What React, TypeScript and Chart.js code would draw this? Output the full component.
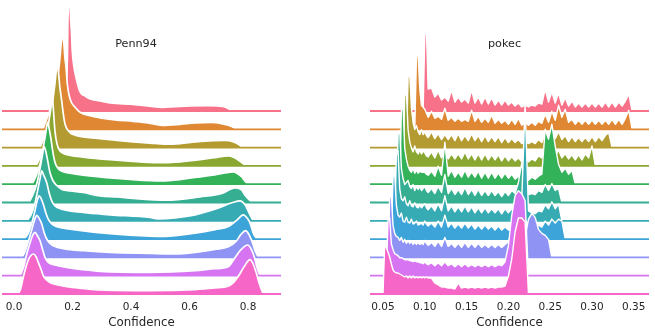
import React, { useEffect, useRef } from "react";
import { Chart, registerables } from "chart.js";

Chart.register(...registerables);
Chart.defaults.font.family = "'DejaVu Sans', sans-serif";

// ---------- data ----------
const ROW_COLORS = [
  "#f77189", "#df8733", "#b39b31", "#89a731", "#33b259", "#35ae91",
  "#37abb4", "#3ca4d8", "#8f93f4", "#d674f2", "#f566c6",
];
const PANEL_TITLES = ["Penn94", "pokec"];
const X_LABEL = "Confidence";
const PENN_TICKS = [0.0, 0.2, 0.4, 0.6, 0.8];
const POKEC_TICKS = [0.05, 0.1, 0.15, 0.2, 0.25, 0.3, 0.35];

// Penn94 ridges (top row first): [confidence, scaled density]
const PENN_0 = [[0.150,0],[0.168,8],[0.176,20],[0.180,28],[0.183,60],[0.184,85],[0.186,104],[0.189,109],[0.192,102],[0.194,90],[0.197,76],[0.199,61],[0.205,44],[0.214,31],[0.226,19],[0.243,15],[0.260,12],[0.294,10],[0.328,8],[0.407,6.5],[0.465,4.8],[0.506,3.7],[0.550,4.3],[0.602,5],[0.660,5.3],[0.697,5],[0.721,4],[0.735,2],[0.747,0]];
const PENN_1 = [[0.099,0],[0.109,8],[0.121,17.6],[0.129,26],[0.140,42.6],[0.152,57.6],[0.157,71],[0.163,90],[0.167,94],[0.170,88],[0.174,72],[0.178,62],[0.182,46],[0.192,30],[0.209,22],[0.226,17],[0.260,13.5],[0.294,11.5],[0.345,9.5],[0.407,8],[0.458,6.5],[0.506,4],[0.568,5],[0.619,6.3],[0.677,6.8],[0.721,5],[0.742,3],[0.762,0]];
const PENN_2 = [[0.089,0],[0.099,7],[0.112,14],[0.121,24],[0.129,37],[0.134,50],[0.140,64],[0.145,78],[0.148,82],[0.151,78],[0.157,60],[0.163,47],[0.168,35],[0.174,24],[0.192,15],[0.209,12.5],[0.243,10.5],[0.294,9],[0.345,7.5],[0.407,5.8],[0.465,4.5],[0.516,3.5],[0.568,4],[0.619,5.6],[0.680,7],[0.721,7.2],[0.749,6],[0.766,3.5],[0.781,0]];
const PENN_3 = [[0.075,0],[0.089,8],[0.103,18],[0.113,32],[0.121,48],[0.127,60],[0.130,68],[0.133,62],[0.140,35],[0.147,22],[0.157,15],[0.169,12.5],[0.192,10.5],[0.236,8.8],[0.328,6.2],[0.441,3.8],[0.516,3.2],[0.568,4],[0.636,6.2],[0.687,8.3],[0.732,10],[0.752,8.5],[0.773,4.5],[0.793,0]];
const PENN_4 = [[0.062,0],[0.075,8],[0.089,20],[0.099,35],[0.108,50],[0.115,62],[0.120,56],[0.127,44],[0.133,32],[0.140,22],[0.150,16],[0.164,13],[0.192,11],[0.236,9],[0.352,5.7],[0.465,3.5],[0.516,3.3],[0.619,6.7],[0.677,9],[0.721,11.3],[0.749,12.3],[0.762,11],[0.779,7.3],[0.790,3],[0.801,0]];
const PENN_5 = [[0.051,0],[0.065,8],[0.079,20],[0.089,34],[0.097,47],[0.103,56],[0.108,52],[0.115,42],[0.123,30],[0.133,22],[0.146,17],[0.164,13],[0.192,11.5],[0.236,10],[0.294,6.5],[0.352,5.5],[0.407,4],[0.523,2.3],[0.636,5.6],[0.711,9],[0.756,14.6],[0.779,12.3],[0.790,7.3],[0.813,0]];
const PENN_6 = [[0.044,0],[0.058,6],[0.072,18],[0.082,32],[0.089,42],[0.095,50],[0.101,46],[0.112,38],[0.120,28],[0.129,20],[0.140,15],[0.163,11.7],[0.236,8.3],[0.328,6],[0.465,3.3],[0.492,2],[0.550,3],[0.619,6],[0.697,12.7],[0.745,18],[0.773,20],[0.790,16],[0.807,6],[0.818,0]];
const PENN_7 = [[0.034,0],[0.049,6],[0.062,17],[0.072,29],[0.080,39],[0.086,43.3],[0.092,41],[0.100,35],[0.109,26],[0.117,20],[0.130,15],[0.146,12.3],[0.192,10],[0.237,8.3],[0.328,5.5],[0.465,3],[0.516,2.7],[0.619,6],[0.687,9.5],[0.733,12.6],[0.762,19],[0.784,24.3],[0.797,21],[0.807,16],[0.818,6],[0.830,0]];
const PENN_8 = [[0.027,0],[0.038,6],[0.051,18],[0.062,29],[0.071,38],[0.078,42],[0.086,39],[0.095,33.4],[0.103,25],[0.112,18.4],[0.123,14],[0.134,11.7],[0.174,8.5],[0.237,6.7],[0.328,5],[0.465,4],[0.550,3.5],[0.619,5],[0.687,8],[0.733,10.7],[0.759,16],[0.776,23],[0.792,26.7],[0.803,23],[0.813,16.7],[0.824,7],[0.835,0]];
const PENN_9 = [[0.021,0],[0.027,4],[0.034,10],[0.044,22],[0.055,33],[0.065,41],[0.072,43.3],[0.080,40],[0.089,35],[0.097,27],[0.106,18.3],[0.115,14],[0.123,12.3],[0.150,10],[0.180,8.3],[0.236,6],[0.294,4.3],[0.465,3.3],[0.619,5],[0.687,7],[0.732,9],[0.756,18.3],[0.776,26],[0.799,30.7],[0.810,27],[0.822,18.3],[0.831,8],[0.841,0]];
const PENN_10 = [[0.010,0],[0.021,3.5],[0.032,17],[0.041,27],[0.049,34],[0.058,38.5],[0.066,40],[0.075,37.5],[0.083,31.6],[0.092,25],[0.100,18.3],[0.111,14],[0.123,11.6],[0.150,9],[0.180,7.3],[0.236,5.5],[0.294,4],[0.465,3.3],[0.619,4.4],[0.687,6],[0.732,7.7],[0.749,11],[0.767,17.7],[0.786,27],[0.807,34.4],[0.819,29],[0.830,19.4],[0.838,11],[0.844,6],[0.852,0]];

// pokec ridges: confidence grid and scaled density per row (top row first)
const POKEC_X = [
  0.050,0.052,0.054,0.056,0.058,0.060,0.062,0.064,0.066,0.068,
  0.070,0.072,0.074,0.076,0.078,0.080,0.082,0.084,0.086,0.088,
  0.090,0.092,0.094,0.096,0.098,0.100,0.102,0.104,0.108,0.112,
  0.116,0.120,0.124,0.128,0.132,0.136,0.140,0.144,0.148,0.152,
  0.156,0.160,0.164,0.168,0.172,0.176,0.180,0.184,0.188,0.192,
  0.196,0.200,0.204,0.208,0.212,0.216,0.220,0.224,0.228,0.232,
  0.236,0.240,0.244,0.248,0.252,0.256,0.260,0.264,0.268,0.272,
  0.276,0.280,0.284,0.288,0.292,0.296,0.300,0.304,0.308,0.312,
  0.316,0.320,0.324,0.328,0.332,0.336,0.340,0.344,0.348,0.352,
];
const POKEC_0 = [
  0,0,0,0,0,0,0,0,0,0,
  0,0,0,0,0,0,0,0,0,0,
  0,0,0,0,0,76,79,22,23,14,
  18,11,14,10,21,9,14,9,12,8,
  21,8,14,7,14,7,13,6,11,6,
  11,6,9,5,8,4,6,4,6,5,
  8,7,22,9,19,8,18,6,13,5,
  10,4,8,4,8,4,8,4,8,4,
  9,4,9,4,9,5,10,17,0,0,
];
const POKEC_1 = [
  0,0,0,0,0,0,0,0,0,0,
  0,0,0,0,0,0,0,0,0,0,
  72,75,40,24,22,20,16,12,18,11,
  13,10,21,9,12,8,11,8,10,8,
  19,8,13,7,11,7,14,6,10,6,
  9,5,10,5,11,4,7,4,7,4,
  8,6,15,7,18,9,24,12,20,7,
  10,5,9,5,9,5,9,5,9,5,
  9,5,10,5,10,5,11,19,0,0,
];
const POKEC_2 = [
  0,0,0,0,0,0,0,0,0,0,
  0,0,0,0,0,70,74,40,25,18,
  22,16,13,18,13,16,12,10,16,9,
  14,8,13,8,13,7,14,7,12,7,
  14,7,12,6,12,6,11,6,11,5,
  10,5,9,5,8,4,6,4,6,4,
  8,5,14,8,20,9,16,8,12,6,
  11,6,10,6,10,6,11,6,11,7,
  12,15,0,0,0,0,0,0,0,0,
];
const POKEC_3 = [
  0,0,0,0,0,0,0,0,0,0,
  0,0,0,70,74,36,24,18,14,20,
  14,12,16,12,15,13,10,9,14,8,
  16,8,14,7,12,7,12,7,14,7,
  12,6,12,6,12,6,11,6,11,5,
  10,5,9,5,8,4,6,4,7,5,
  10,8,18,10,22,10,16,8,12,7,
  11,6,11,6,12,8,20,0,0,0,
  0,0,0,0,0,0,0,0,0,0,
];
const POKEC_4 = [
  0,0,0,0,0,0,0,0,0,0,
  0,74,78,36,25,18,14,12,16,11,
  14,11,13,12,12,12,10,9,13,8,
  18,9,42,8,14,7,12,7,14,7,
  12,7,13,6,12,6,12,6,11,6,
  11,6,10,5,8,4,6,4,7,5,
  8,10,55,45,60,38,20,12,16,10,
  14,0,0,0,0,0,0,0,0,0,
  0,0,0,0,0,0,0,0,0,0,
];
const POKEC_5 = [
  0,0,0,0,0,0,0,0,0,68,
  72,34,24,18,20,22,16,14,18,12,
  16,13,16,12,14,16,12,10,14,9,
  16,10,28,9,14,8,13,8,15,8,
  13,7,13,7,12,7,12,7,11,6,
  11,7,12,9,20,40,15,8,9,8,
  12,10,18,12,19,12,14,0,0,0,
  0,0,0,0,0,0,0,0,0,0,
  0,0,0,0,0,0,0,0,0,0,
];
const POKEC_6 = [
  0,0,0,0,0,0,0,0,66,70,
  32,22,20,24,17,15,20,15,14,18,
  14,13,16,13,15,17,13,11,15,10,
  17,10,25,10,15,9,14,9,15,9,
  14,8,13,8,13,8,12,8,12,7,
  12,8,12,9,14,22,117,10,8,7,
  10,9,16,12,19,12,17,0,0,0,
  0,0,0,0,0,0,0,0,0,0,
  0,0,0,0,0,0,0,0,0,0,
];
const POKEC_7 = [
  0,0,0,0,0,0,62,65,34,24,
  22,26,18,17,22,17,16,20,15,16,
  18,14,15,16,14,18,15,13,16,12,
  18,12,24,12,16,11,15,11,16,11,
  15,10,14,10,14,10,13,9,13,9,
  12,9,9,10,22,36,20,10,12,10,
  14,12,18,14,20,16,20,18,0,0,
  0,0,0,0,0,0,0,0,0,0,
  0,0,0,0,0,0,0,0,0,0,
];
const POKEC_8 = [
  0,0,0,0,60,62,32,24,21,20,
  17,20,15,18,14,17,14,16,13,15,
  13,15,13,14,13,17,14,12,15,11,
  16,11,20,11,14,10,14,10,15,10,
  14,10,14,10,13,10,13,10,13,10,
  13,16,25,40,50,30,20,38,44,40,
  28,24,22,18,0,0,0,0,0,0,
  0,0,0,0,0,0,0,0,0,0,
  0,0,0,0,0,0,0,0,0,0,
];
const POKEC_9 = [
  0,0,0,56,58,32,26,22,21,20,
  18,18,17,16,16,16,15,15,14,15,
  14,14,13,13,12,14,12,11,13,10,
  13,10,14,10,12,9,12,9,12,9,
  11,9,11,9,11,9,11,9,11,10,
  14,30,60,80,85,82,75,0,0,0,
  0,0,0,0,0,0,0,0,0,0,
  0,0,0,0,0,0,0,0,0,0,
  0,0,0,0,0,0,0,0,0,0,
];
const POKEC_10 = [
  0,49,46,42,37,30,24,22,21,21,
  20,19,18,17,18,16,18,16,18,16,
  17,16,17,16,17,16,17,16,16,11,
  9,7,7,6,6,5,11,6,7,6,
  7,6,7,6,7,6,7,6,7,7,
  8,18,35,62,76,76,72,0,0,0,
  0,0,0,0,0,0,0,0,0,0,
  0,0,0,0,0,0,0,0,0,0,
  0,0,0,0,0,0,0,0,0,0,
];

// ---------- build ----------
type Pt = { x: number; y: number };
const PENN_ROWS: Pt[][] = [PENN_0, PENN_1, PENN_2, PENN_3, PENN_4, PENN_5, PENN_6, PENN_7, PENN_8, PENN_9, PENN_10]
  .map((r) => r.map(([x, y]) => ({ x, y })));
const POKEC_ROWS: Pt[][] = [POKEC_0, POKEC_1, POKEC_2, POKEC_3, POKEC_4, POKEC_5, POKEC_6, POKEC_7, POKEC_8, POKEC_9, POKEC_10]
  .map((r) => r.map((y, i) => ({ x: POKEC_X[i], y })));

const ROW_GAP = 18.3;
const N = 11;

function makeDatasets(rows: Pt[][], smooth: boolean, xMin: number, xMax: number, outline: number) {
  const ds: any[] = [];
  rows.forEach((pts, k) => {
    const offset = (N - 1 - k) * ROW_GAP;
    const color = ROW_COLORS[k];
    ds.push({
      data: pts.map((p) => ({ x: p.x, y: p.y + offset })),
      fill: { value: offset },
      backgroundColor: color,
      borderColor: "#ffffff",
      borderWidth: outline,
      borderJoinStyle: "round",
      pointRadius: 0,
      tension: 0,
      cubicInterpolationMode: smooth ? "monotone" : "default",
      order: 2 * (N - 1 - k) + 1,
      clip: false,
    });
    ds.push({
      data: [{ x: xMin, y: offset }, { x: xMax, y: offset }],
      fill: false,
      borderColor: color,
      borderWidth: 1.8,
      pointRadius: 0,
      order: 2 * (N - 1 - k),
      clip: false,
    });
  });
  return ds;
}

const titlePlugin = {
  id: "panelTitle",
  afterDraw(chart: any, _args: any, opts: any) {
    const ctx = chart.ctx;
    ctx.save();
    ctx.font = "11.2px 'DejaVu Sans'";
    ctx.fillStyle = "#262626";
    ctx.textAlign = "center";
    ctx.textBaseline = "alphabetic";
    ctx.fillText(opts.text, opts.x, opts.y);
    ctx.restore();
  },
};

type PanelProps = {
  rows: Pt[][]; smooth: boolean; xMin: number; xMax: number; ticks: number[]; decimals: number;
  title: string; titleX: number; left: number; width: number; padLeft: number; padRight: number; outline: number;
};

function Panel(p: PanelProps) {
  const ref = useRef<HTMLCanvasElement>(null);
  useEffect(() => {
    const chart = new Chart(ref.current as HTMLCanvasElement, {
      type: "line",
      data: { datasets: makeDatasets(p.rows, p.smooth, p.xMin, p.xMax, p.outline) },
      options: {
        responsive: false,
        animation: false,
        devicePixelRatio: 1,
        events: [],
        layout: { padding: { left: p.padLeft, right: p.padRight, top: 0, bottom: 0 } },
        plugins: {
          legend: { display: false },
          tooltip: { enabled: false },
          panelTitle: { text: p.title, x: p.titleX, y: 46.5 },
        } as any,
        scales: {
          x: {
            type: "linear",
            min: p.xMin,
            max: p.xMax,
            grid: { display: false, drawTicks: false },
            border: { display: false },
            afterBuildTicks: (axis: any) => {
              axis.ticks = p.ticks.map((v) => ({ value: v }));
            },
            ticks: {
              autoSkip: false,
              maxRotation: 0,
              padding: 2.7,
              color: "#262626",
              font: { size: 10.5 },
              callback: (v: any) => Number(v).toFixed(p.decimals),
            },
            title: {
              display: true,
              text: X_LABEL,
              color: "#262626",
              font: { size: 11.8, lineHeight: 1.0 },
              padding: { top: 0, bottom: 6.6 },
            },
          },
          y: { type: "linear", display: false, min: -4.6, max: 294 },
        },
      },
      plugins: [titlePlugin],
    } as any);
    return () => chart.destroy();
  }, []);
  return (
    <canvas
      ref={ref}
      width={p.width}
      height={335}
      style={{ position: "absolute", left: p.left, top: 0, width: p.width, height: 335 }}
    />
  );
}

export default function App() {
  return (
    <div style={{ position: "absolute", left: 0, top: 0, width: 655, height: 335, background: "#ffffff" }}>
      <Panel rows={PENN_ROWS} smooth={true} xMin={-0.041} xMax={0.9128} ticks={PENN_TICKS} decimals={1}
        title={PANEL_TITLES[0]} titleX={136} left={0} width={327} padLeft={2} padRight={46} outline={1.7} />
      <Panel rows={POKEC_ROWS} smooth={false} xMin={0.03445} xMax={0.3682} ticks={POKEC_TICKS} decimals={2}
        title={PANEL_TITLES[1]} titleX={177.5} left={327} width={328} padLeft={43} padRight={6} outline={1.4} />
    </div>
  );
}
